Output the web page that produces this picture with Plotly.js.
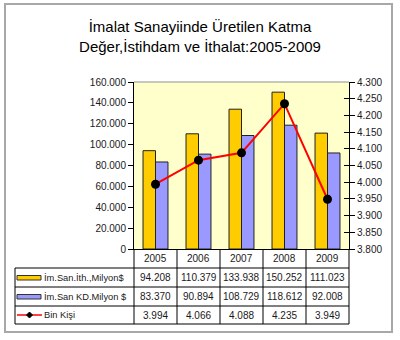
<!DOCTYPE html>
<html>
<head>
<meta charset="utf-8">
<script src="https://cdn.plot.ly/plotly-3.0.1.min.js"></script>
<style>
html,body{margin:0;padding:0;background:#fff;}
#chart{width:400px;height:340px;}
</style>
</head>
<body>
<div id="chart"></div>
<script>
// ---- data ----
const years = ['2005', '2006', '2007', '2008', '2009'];
const imSanIthalat = [94208, 110379, 133938, 150252, 111023];
const imSanKatmaDeger = [83370, 90894, 108729, 118612, 92008];
const binKisi = [3994, 4066, 4088, 4235, 3949];
const seriesNames = ['İm.San.İth.,Milyon$', 'İm.San KD.Milyon $', 'Bin Kişi'];
const chartTitle = 'İmalat Sanayiinde Üretilen Katma<br>Değer,İstihdam ve İthalat:2005-2009';

// ---- geometry helpers (pixel -> paper) ----
const L = 134, R = 349, T = 82, B = 249;
const W = 400, H = 340;
const px = x => (x - L) / (R - L);
const py = y => (B - y) / (B - T);
const fmt = n => String(n).replace(/\B(?=(\d{3})+(?!\d))/g, '.');
const colX = i => (i + 0.5) / years.length; // paper x of column centre

const FONT = 'Liberation Sans, Arial, sans-serif';
const TXT = '#1a1a1a';
const yellow = '#FFCC00', blue = '#9999FF', red = '#FF0000';

const traces = [
  {type: 'bar', x: years, y: imSanIthalat, name: seriesNames[0],
   marker: {color: yellow, line: {color: '#222', width: 1}}},
  {type: 'bar', x: years, y: imSanKatmaDeger, name: seriesNames[1],
   marker: {color: blue, line: {color: '#222', width: 1}}},
  {type: 'scatter', mode: 'lines+markers', x: years, y: binKisi, yaxis: 'y2', name: seriesNames[2],
   line: {color: red, width: 2}, marker: {color: '#000', size: 9}},
  // carrier for the inner half of the right-axis cross ticks (invisible)
  {type: 'scatter', mode: 'markers', x: years, y: binKisi, yaxis: 'y3', showlegend: false,
   marker: {opacity: 0, size: 1}, hoverinfo: 'skip'}
];

const shapes = [];
const annotations = [];
const lineStyle = {color: '#000', width: 1};
// outer frame
shapes.push({type: 'rect', xref: 'paper', yref: 'paper', x0: px(5), x1: px(392), y0: py(4), y1: py(332),
  line: {color: '#a8a8a8', width: 2}, layer: 'below'});
// plot area top border (gray)
shapes.push({type: 'line', xref: 'paper', yref: 'paper', x0: 0, x1: 1, y0: 1, y1: 1, line: {color: '#909090', width: 1}});

// data table
const rowLines = [268, 287, 306, 324];
rowLines.forEach(y => shapes.push({type: 'line', xref: 'paper', yref: 'paper',
  x0: px(15), x1: 1, y0: py(y), y1: py(y), line: lineStyle}));
shapes.push({type: 'line', xref: 'paper', yref: 'paper', x0: px(15), x1: px(15), y0: py(268), y1: py(324), line: lineStyle});
for (let i = 0; i <= years.length; i++) {
  const xp = i / years.length;
  shapes.push({type: 'line', xref: 'paper', yref: 'paper', x0: xp, x1: xp, y0: 0, y1: py(324), line: lineStyle});
}
// header row: years
years.forEach((yr, i) => annotations.push({x: colX(i), xref: 'paper', y: py(258), yref: 'paper', text: yr, showarrow: false,
  font: {family: FONT, size: 10, color: TXT}, xanchor: 'center', yanchor: 'middle'}));
// value rows
const rowCenters = [277.5, 296.5, 315];
[imSanIthalat, imSanKatmaDeger, binKisi].forEach((arr, r) => {
  arr.forEach((v, i) => annotations.push({x: colX(i), xref: 'paper', y: py(rowCenters[r]), yref: 'paper',
    text: fmt(v), showarrow: false, font: {family: FONT, size: 10, color: TXT}, xanchor: 'center', yanchor: 'middle'}));
  annotations.push({x: px(42), xref: 'paper', y: py(rowCenters[r]), yref: 'paper', text: seriesNames[r],
    showarrow: false, font: {family: FONT, size: 9.3, color: TXT}, xanchor: 'left', yanchor: 'middle'});
});
// legend keys
shapes.push({type: 'rect', xref: 'paper', yref: 'paper', x0: px(17), x1: px(41), y0: py(275.5), y1: py(280),
  fillcolor: yellow, line: {color: '#333', width: 1}});
shapes.push({type: 'rect', xref: 'paper', yref: 'paper', x0: px(17), x1: px(41), y0: py(294.5), y1: py(299),
  fillcolor: blue, line: {color: '#333', width: 1}});
shapes.push({type: 'line', xref: 'paper', yref: 'paper', x0: px(17), x1: px(42), y0: py(315), y1: py(315),
  line: {color: red, width: 1.5}});
shapes.push({type: 'path', xref: 'paper', yref: 'paper',
  path: `M ${px(26.5)} ${py(315)} L ${px(29.5)} ${py(312)} L ${px(32.5)} ${py(315)} L ${px(29.5)} ${py(318)} Z`,
  fillcolor: '#000', line: {color: '#000', width: 1}});

const layout = {
  width: W, height: H,
  margin: {l: L, r: W - R, t: T, b: H - B, pad: 0},
  paper_bgcolor: 'rgba(0,0,0,0)',
  plot_bgcolor: '#FFFFCC',
  separators: ',.',
  showlegend: false,
  barmode: 'group',
  bargap: 0.42,
  bargroupgap: 0,
  font: {family: FONT, size: 10, color: TXT},
  title: {text: chartTitle, font: {family: FONT, size: 15, color: '#000'},
    x: 0.5, xref: 'container', xanchor: 'center', y: 1 - 32 / H, yref: 'container', yanchor: 'middle'},
  xaxis: {type: 'category', range: [-0.5, years.length - 0.5], autorange: false,
    showticklabels: false, ticks: '', showline: true, linecolor: '#000', linewidth: 1,
    showgrid: false, zeroline: false, fixedrange: true},
  yaxis: {range: [0, 160000], autorange: false, dtick: 20000, tickformat: ',d', ticks: 'outside', ticklen: 5, tickcolor: '#000',
    showline: true, linecolor: '#000', linewidth: 1, showgrid: false, zeroline: false,
    tickfont: {family: FONT, size: 10, color: TXT}},
  yaxis2: {overlaying: 'y', side: 'right', range: [3800, 4300], autorange: false, dtick: 50, tickformat: ',d',
    ticks: 'outside', ticklen: 5, tickcolor: '#000', showline: true, linecolor: '#000', linewidth: 1,
    showgrid: false, zeroline: false, tickfont: {family: FONT, size: 10, color: TXT}},
  yaxis3: {overlaying: 'y', side: 'right', range: [3800, 4300], autorange: false, dtick: 50, ticks: 'inside', ticklen: 5,
    tickcolor: '#000', showticklabels: false, showline: false, showgrid: false, zeroline: false},
  shapes: shapes,
  annotations: annotations
};

Plotly.newPlot('chart', traces, layout, {staticPlot: true, displayModeBar: false});
</script>
</body>
</html>
